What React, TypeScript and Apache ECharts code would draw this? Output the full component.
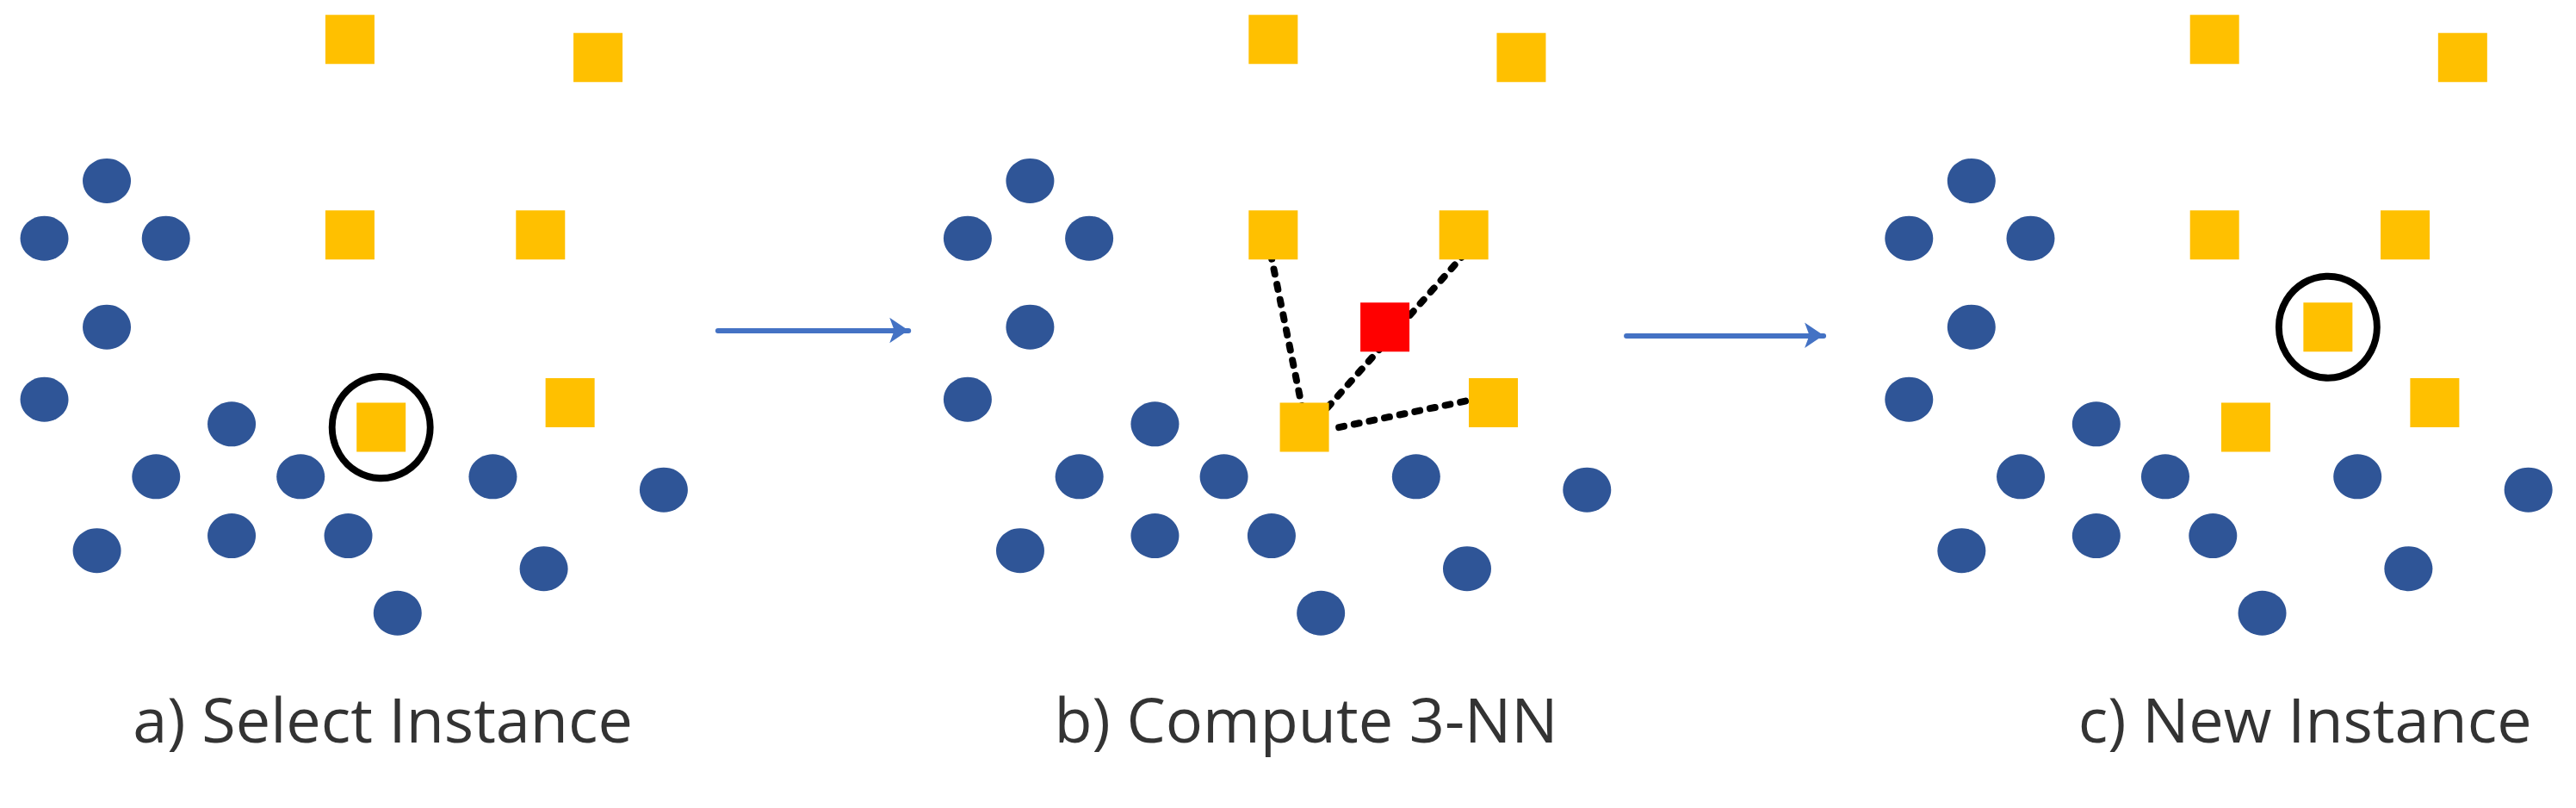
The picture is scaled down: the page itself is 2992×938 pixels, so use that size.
import React, { useEffect, useRef } from "react";
import * as echarts from "echarts";

const S = 2992 / 1568;
const blueA = [[65,110],[27,145],[101,145],[65,199],[27,243],[141,258],[95,290],[183,290],[59,335],[141,326],[212,326],[242,373],[300,290],[331,346],[404,298]];
const squaresA = [[213,24],[364,35],[213,143],[329,143],[347,245],[232,260]];
const offsets = [0, 562, 1135];
const newInstance = [[1417,199]];
const redPoint = [[843,199]];
const rings = [[232,260],[1417,199]];
const dottedLines = [[[793,250],[774,157]],[[808,248],[891,155]],[[815,260],[897,243]]];
const arrows = [[[437,201],[553,201]],[[990,204],[1110,204]]];
const labels = [["a) Select Instance",233,437],["b) Compute 3-NN",795,437],["c) New Instance",1403,437]];

export default function App() {
  const ref = useRef<HTMLDivElement>(null);
  useEffect(() => {
    document.body.style.margin = "0";
    const chart = echarts.init(ref.current!, null, { renderer: "svg" });
    const blue = offsets.flatMap((o) => blueA.map(([x, y]) => [x + o, y]));
    const yellow = offsets.flatMap((o) => squaresA.map(([x, y]) => [x + o, y])).concat(newInstance);
    chart.setOption({
      animation: false,
      grid: { left: 0, right: 0, top: 0, bottom: 0 },
      xAxis: { type: "value", min: 0, max: 1568, show: false },
      yAxis: { type: "value", min: 0, max: 938 / S, inverse: true, show: false },
      series: [
        { type: "lines", coordinateSystem: "cartesian2d", polyline: false, data: arrows.map((c) => ({ coords: c })),
          symbol: ["none", "arrow"], symbolSize: 22, lineStyle: { color: "#4472C4", width: 6, opacity: 1, cap: "round" } },
        { type: "lines", coordinateSystem: "cartesian2d", data: dottedLines.map((c) => ({ coords: c })),
          lineStyle: { color: "#000", width: 8, type: [6, 12], cap: "round", opacity: 1 } },
        { type: "scatter", data: blue, symbol: "circle", symbolSize: [56, 52], itemStyle: { color: "#2F5597", opacity: 1 } },
        { type: "scatter", data: yellow, symbol: "rect", symbolSize: 57, itemStyle: { color: "#FFC000", opacity: 1 } },
        { type: "scatter", data: redPoint, symbol: "rect", symbolSize: 57, itemStyle: { color: "#FF0000", opacity: 1 } },
        { type: "scatter", data: rings, symbol: "circle", symbolSize: [114, 118], itemStyle: { color: "none", borderColor: "#000", borderWidth: 8, opacity: 1 } },
        { type: "scatter", data: labels.map(([t, x, y]) => ({ value: [x, y], name: t })), symbolSize: 0,
          label: { show: true, position: "inside", formatter: (p: any) => p.name, fontSize: 72, color: "#000", fontFamily: "Open Sans" } },
      ],
    });
    return () => chart.dispose();
  }, []);
  return <div ref={ref} style={{ width: 2992, height: 938 }} />;
}
